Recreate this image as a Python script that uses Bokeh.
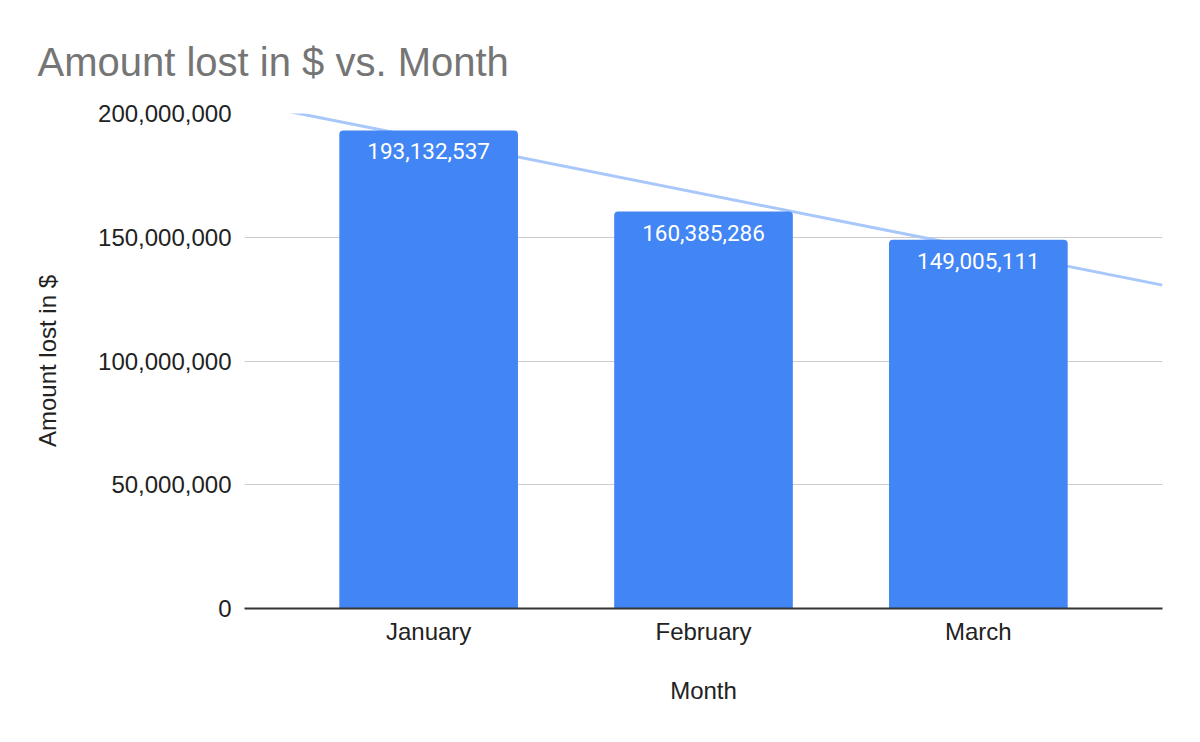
import numpy as np
from bokeh.plotting import figure
from bokeh.models import ColumnDataSource, FixedTicker, NumeralTickFormatter, Range1d
from bokeh.core.properties import value
from bokeh.embed import file_html
from bokeh.resources import INLINE

months = ["January", "February", "March"]
amounts = [193132537, 160385286, 149005111]
y_ticks = [0, 50000000, 100000000, 150000000, 200000000]

xs = list(range(len(months)))
labels = [f"{v:,}" for v in amounts]

src = ColumnDataSource(dict(x=xs, top=amounts, label=labels))

y_max = 200000000
x_start, x_end = -0.67, len(months) - 1 + 0.67
p = figure(width=1192, height=734, output_backend="svg", toolbar_location=None,
           x_range=Range1d(x_start, x_end), y_range=Range1d(0, y_max),
           min_border_left=244, min_border_right=30, min_border_top=113, min_border_bottom=126,
           title="Amount lost in $ vs. Month")
p.outline_line_color = None
p.background_fill_color = "white"
p.border_fill_color = "white"

p.title.text_font = "Liberation Sans"
p.title.text_font_size = "40px"
p.title.text_font_style = "normal"
p.title.text_color = "#757575"
p.title.align = "left"
p.title.vertical_align = "top"
p.title.offset = -207
p.title.standoff = 56

# trendline (linear fit through the data)
slope, intercept = np.polyfit(xs, amounts, 1)
tx = np.array([x_start, x_end])
p.line(tx, slope * tx + intercept, line_color="#a8c7fa", line_width=3)

p.vbar(x="x", top="top", width=0.65, bottom=0, source=src, fill_color="#4285f4",
       line_color=None, border_radius=(4, 4, 0, 0))

p.text(x="x", y="top", text="label", source=src, text_color="white",
       text_font=value("Roboto"), text_font_size="22.5px", text_align="center",
       text_baseline="middle", y_offset=21)

# axes
p.xaxis.ticker = FixedTicker(ticks=xs)
p.xaxis.major_label_overrides = {i: m for i, m in enumerate(months)}
p.yaxis.ticker = FixedTicker(ticks=y_ticks)
p.yaxis.formatter = NumeralTickFormatter(format="0,0")

for ax in (p.xaxis, p.yaxis):
    ax.major_tick_line_color = None
    ax.minor_tick_line_color = None
    ax.major_label_text_font = "Liberation Sans"
    ax.major_label_text_font_size = "24px"
    ax.major_label_text_color = "#222222"
    ax.axis_label_text_font = "Liberation Sans"
    ax.axis_label_text_font_size = "24px"
    ax.axis_label_text_font_style = "normal"
    ax.axis_label_text_color = "#222222"

p.xaxis.axis_label = "Month"
p.yaxis.axis_label = "Amount lost in $"
p.xaxis.axis_line_color = "#333333"
p.xaxis.axis_line_width = 2
p.yaxis.axis_line_color = None
p.xaxis.major_label_standoff = 3
p.yaxis.major_label_standoff = 7
p.xaxis.axis_label_standoff = 29
p.yaxis.axis_label_standoff = 34

p.xgrid.grid_line_color = None
p.ygrid.grid_line_color = "#cccccc"
p.ygrid.grid_line_width = 1
p.ygrid.ticker = FixedTicker(ticks=y_ticks)

open("out.html", "w").write(file_html(p, INLINE))
